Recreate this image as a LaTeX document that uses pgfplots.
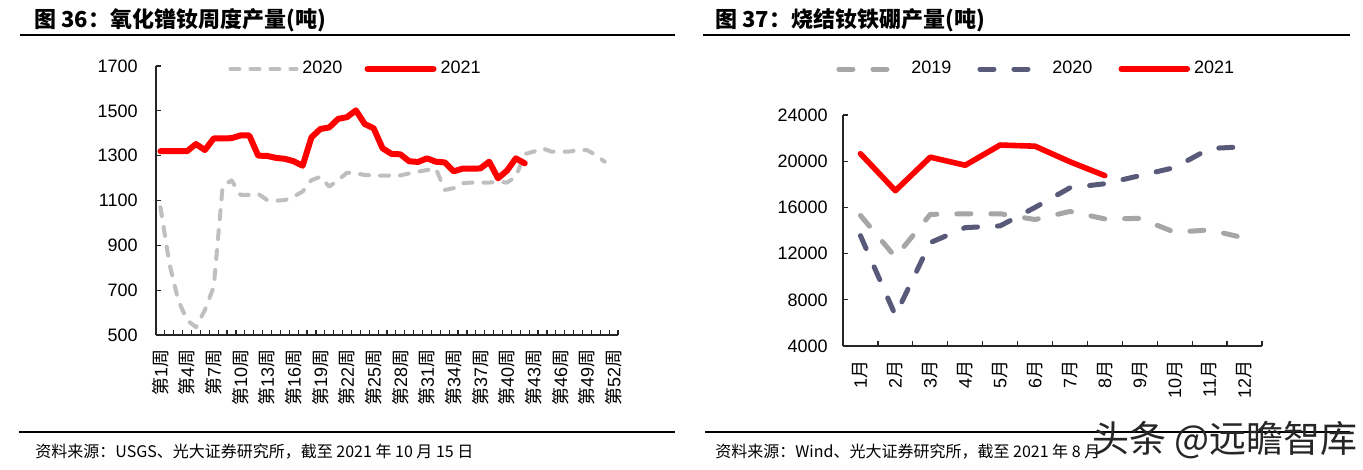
\documentclass[border=0pt]{standalone}
\usepackage{fontspec}
\setmainfont{Liberation Sans}
\newfontfamily\cjk{Noto Sans CJK SC}
\usepackage{pgfplots}
\pgfplotsset{compat=1.18}
\definecolor{lgray}{RGB}{191,191,191}
\definecolor{mgray}{RGB}{166,166,166}
\definecolor{slate}{RGB}{89,89,122}
\newcommand\wk[1]{{\cjk 第}#1{\cjk 周}}
\newcommand\yue[1]{#1{\cjk 月}}
\pgfplotsset{
  myaxis/.style={
    anchor=south west, scale only axis,
    axis x line*=bottom, axis y line*=left,
    axis line style={-, black!85, line width=0.6bp},
    tick align=inside,
    major tick length=2.5bp, minor tick length=2.5bp,
    tick style={black!85, line width=0.6bp},
    major x tick style={draw=none},
    scaled y ticks=false,
    /pgf/number format/1000 sep={},
    /pgf/number format/assume math mode=true,
    tick label style={font=\fontsize{9bp}{10bp}\selectfont, inner sep=0pt},
    xticklabel style={rotate=90, anchor=east},
    yticklabel style={anchor=east},
    clip=false,
    legend image code/.code={\draw[#1] (0bp,0bp) -- (33bp,0bp);},
  }
}
\begin{document}
\begin{tikzpicture}
\useasboundingbox[fill=white] (0,0) rectangle (681.5bp,-235bp);

% ---------- left chart ----------
\begin{axis}[myaxis,
  at={(78bp,-167.5bp)}, width=231bp, height=134.5bp,
  xmin=0.5, xmax=52.5, ymin=500, ymax=1700,
  ytick={500,700,...,1700},
  xtick={1,4,...,52},
  xticklabels={\wk{1},\wk{4},\wk{7},\wk{10},\wk{13},\wk{16},\wk{19},\wk{22},\wk{25},\wk{28},\wk{31},\wk{34},\wk{37},\wk{40},\wk{43},\wk{46},\wk{49},\wk{52}},
  minor xtick={0.5,1.5,...,52.5},
  xticklabel shift=7bp, yticklabel shift=9bp,
  legend columns=-1,
  legend style={draw=none, fill=none, inner sep=0pt, at={(0.156,0.989)}, anchor=west,
    font=\fontsize{9bp}{10bp}\selectfont,
    nodes={inner sep=2bp},
    /tikz/every even column/.append style={column sep=9bp}},
]
\addplot[lgray, line width=2bp, dash pattern=on 4.5bp off 5.5bp, line cap=round, line join=round] coordinates {
(1,1070)(2,820)(3,655)(4,566)(5,535)(6,611)(7,715)(8,1163)(9,1190)(10,1125)
(11,1125)(12,1130)(13,1102)(14,1099)(15,1102)(16,1117)(17,1140)(18,1191)(19,1206)(20,1162)
(21,1191)(22,1224)(23,1221)(24,1214)(25,1211)(26,1211)(27,1211)(28,1212)(29,1221)(30,1229)
(31,1236)(32,1243)(33,1147)(34,1155)(35,1177)(36,1180)(37,1180)(38,1180)(39,1184)(40,1180)
(41,1206)(42,1307)(43,1318)(44,1333)(45,1318)(46,1318)(47,1318)(48,1325)(49,1325)(50,1303)
(51,1273)};
\addlegendentry{2020}
\addplot[red, line width=3bp, line cap=round, line join=round] coordinates {
(1,1320)(2,1320)(3,1320)(4,1320)(5,1352)(6,1325)(7,1377)(8,1377)(9,1378)(10,1390)
(11,1390)(12,1300)(13,1299)(14,1290)(15,1286)(16,1275)(17,1255)(18,1382)(19,1419)(20,1426)
(21,1464)(22,1472)(23,1502)(24,1441)(25,1422)(26,1333)(27,1308)(28,1306)(29,1275)(30,1272)
(31,1288)(32,1273)(33,1270)(34,1230)(35,1242)(36,1242)(37,1243)(38,1273)(39,1199)(40,1233)
(41,1288)(42,1266)};
\addlegendentry{2021}
\end{axis}

% ---------- right chart ----------
\begin{axis}[myaxis,
  at={(421.5bp,-173bp)}, width=209.5bp, height=115.5bp,
  xmin=0.5, xmax=12.5, ymin=4000, ymax=24000,
  ytick={4000,8000,...,24000},
  xtick={1,...,12},
  xticklabels={\yue{1},\yue{2},\yue{3},\yue{4},\yue{5},\yue{6},\yue{7},\yue{8},\yue{9},\yue{10},\yue{11},\yue{12}},
  minor xtick={0.5,1.5,...,12.5},
  xticklabel shift=7bp, yticklabel shift=7.5bp,
  legend columns=-1,
  legend style={draw=none, fill=none, inner sep=0pt, at={(-0.0167,1.199)}, anchor=west,
    font=\fontsize{9bp}{10bp}\selectfont,
    nodes={inner sep=2bp},
    /tikz/every even column/.append style={column sep=11bp}},
]
\addplot[mgray, line width=2.5bp, dash pattern=on 7bp off 10bp, line cap=round, line join=round] coordinates {
(1,15300)(2,11700)(3,15400)(4,15450)(5,15450)(6,14950)(7,15650)(8,15000)(9,15050)(10,13850)(11,14050)(12,13350)};
\addlegendentry{2019}
\addplot[slate, line width=2.5bp, dash pattern=on 7bp off 10bp, line cap=round, line join=round] coordinates {
(1,13550)(2,6650)(3,12950)(4,14250)(5,14400)(6,16000)(7,17700)(8,18050)(9,18750)(10,19450)(11,21100)(12,21250)};
\addlegendentry{2020}
\addplot[red, line width=2.8bp, line cap=round, line join=round] coordinates {
(1,20650)(2,17450)(3,20350)(4,19650)(5,21400)(6,21300)(7,19950)(8,18750)};
\addlegendentry{2021}
\end{axis}

% ---------- titles, rules, sources ----------
\node[anchor=west, inner sep=0pt] at (17bp,-10bp) {\fontsize{11bp}{12bp}\selectfont\cjk\bfseries 图 36：氧化镨钕周度产量(吨)};
\node[anchor=west, inner sep=0pt] at (357.5bp,-10bp) {\fontsize{11bp}{12bp}\selectfont\cjk\bfseries 图 37：烧结钕铁硼产量(吨)};
\draw[line width=1.3bp] (10bp,-17.5bp) -- (337.5bp,-17.5bp);
\draw[line width=1.3bp] (351.5bp,-17.5bp) -- (675bp,-17.5bp);
\draw[line width=1.3bp] (9.5bp,-216bp) -- (337.5bp,-216bp);
\draw[line width=1.3bp] (352.5bp,-216bp) -- (675bp,-216bp);
\node[anchor=west, inner sep=0pt] at (17.5bp,-226bp) {\fontsize{8bp}{9bp}\selectfont\cjk 资料来源：USGS、光大证券研究所，截至 2021 年 10 月 15 日};
\node[anchor=west, inner sep=0pt] at (357.5bp,-226bp) {\fontsize{8bp}{9bp}\selectfont\cjk 资料来源：Wind、光大证券研究所，截至 2021 年 8 月};
\node[anchor=center, inner sep=0pt, text=black!85] at (612.5bp,-220bp) {\fontsize{18.5bp}{19bp}\selectfont\cjk 头条 @远瞻智库};
\end{tikzpicture}
\end{document}
